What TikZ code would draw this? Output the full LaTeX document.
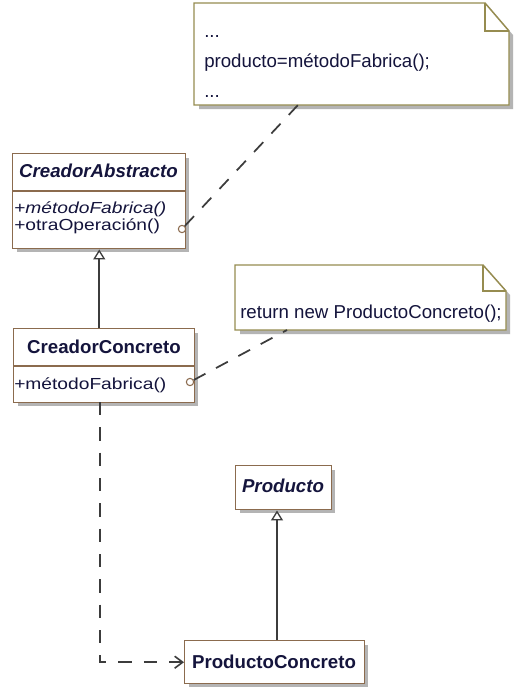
\documentclass[tikz,border=0pt]{standalone}
\usepackage{fontspec}
\setmainfont{Liberation Sans}
\newfontfamily\memberfont{Liberation Sans}[FakeStretch=1.2]
\usetikzlibrary{arrows.meta}
\definecolor{boxbrown}{HTML}{8B6B4E}
\definecolor{noteolive}{HTML}{968C50}
\definecolor{shadowgray}{HTML}{B4B4B4}
\definecolor{txt}{HTML}{14143C}
\definecolor{linegray}{HTML}{3C3C3C}
\tikzset{
  clsbox/.style={draw=boxbrown, line width=1.1pt, fill=white, inner sep=0pt, anchor=north west},
  notebody/.style={draw=noteolive, line width=1.1pt, fill=white, line join=miter},
  txtnode/.style={inner sep=0pt, text=txt, font=\fontsize{14}{16}\selectfont},
  membernode/.style={inner sep=0pt, text=txt, font=\memberfont\fontsize{12}{14}\selectfont, anchor=base west},
  circ/.style={circle, draw=boxbrown, line width=0.8pt, fill=white, minimum size=5.5pt, inner sep=0pt},
  conn/.style={draw=linegray, line width=1.3pt},
  dashconn/.style={conn, dash pattern=on 10pt off 9pt},
  inherit/.style={conn, -{Triangle[open, length=7.5pt, width=9pt, line width=1pt]}},
  depend/.style={dashconn, -{Straight Barb[length=6pt, width=9pt, line width=1.2pt]}}
}
\begin{document}
\begin{tikzpicture}[x=0.75pt, y=-0.75pt]
\useasboundingbox (0,0) rectangle (521,692);
\fill[white] (0,0) rectangle (521,692);

% ---------- Note 1 ----------
\fill[shadowgray] (199,8) -- (490,8) -- (513,35) -- (513,109) -- (199,109) -- cycle;
\draw[notebody] (194,3) -- (485,3) -- (509,31) -- (509,105) -- (194,105) -- cycle;
\draw[notebody, fill=none] (485,3) -- (485,31) -- (509,31);
\node[inner sep=0pt, minimum width=236pt, minimum height=76pt, anchor=north west] (n1) at (194,3) {};
\node[txtnode, anchor=base west] (n1l1) at (204,38) {...};
\node[txtnode, anchor=base west] (n1l2) at (204,68) {producto=métodoFabrica();};
\node[txtnode, anchor=base west] (n1l3) at (204,98) {...};
\coordinate (n1b) at (298,105);

% ---------- Note 2 ----------
\fill[shadowgray] (240,270) -- (488,270) -- (510,295) -- (510,334) -- (240,334) -- cycle;
\draw[notebody] (235,265) -- (483,265) -- (506,291) -- (506,330) -- (235,330) -- cycle;
\draw[notebody, fill=none] (483,265) -- (483,291) -- (506,291);
\node[inner sep=0pt, minimum width=203.25pt, minimum height=48.75pt, anchor=north west] (n2) at (235,265) {};
\node[txtnode, anchor=base west] (n2l1) at (240,318) {return new ProductoConcreto();};
\coordinate (n2b) at (287,330);

% ---------- CreadorAbstracto ----------
\fill[shadowgray] (17,158) rectangle (189,252);
\node[clsbox, minimum width=129.75pt, minimum height=71.25pt] (ca) at (12,153) {};
\draw[boxbrown, line width=1.1pt] (12,191) -- (185,191);
\node[txtnode, anchor=base, font=\fontsize{14}{16}\selectfont\bfseries\itshape] (catitle) at (98.5,177) {CreadorAbstracto};
\node[membernode] (cam1) at (14,213) {+\textit{métodoFabrica()}};
\node[membernode] (cam2) at (14,230) {+otraOperación()};
\node[circ] (cac) at (182,229) {};

% ---------- CreadorConcreto ----------
\fill[shadowgray] (18,333) rectangle (198,406);
\node[clsbox, minimum width=135.75pt, minimum height=55.5pt] (cc) at (13,328) {};
\draw[boxbrown, line width=1.1pt] (13,366) -- (194,366);
\node[txtnode, anchor=base, font=\fontsize{14}{16}\selectfont\bfseries] (cctitle) at (104,353) {CreadorConcreto};
\node[membernode] (ccm1) at (14,389) {+métodoFabrica()};
\node[circ] (ccc) at (190,382) {};

% ---------- Producto ----------
\fill[shadowgray] (240,470) rectangle (335,513);
\node[clsbox, minimum width=72pt, minimum height=33pt] (p) at (235,465) {};
\node[txtnode, anchor=base, font=\fontsize{14}{16}\selectfont\bfseries\itshape] (ptitle) at (283,492) {Producto};

% ---------- ProductoConcreto ----------
\fill[shadowgray] (189,645) rectangle (368,687);
\node[clsbox, minimum width=135pt, minimum height=32.25pt] (pc) at (184,640) {};
\node[txtnode, anchor=base, font=\fontsize{14}{16}\selectfont\bfseries] (pctitle) at (274,668) {ProductoConcreto};

% ---------- Connectors ----------
\draw[dashconn] (cac) -- (n1b);
\draw[dashconn] (ccc) -- (n2b);
\draw[inherit] (ca.south |- cc.north) -- (ca.south);
\coordinate (pup) at (277,640);
\draw[inherit] (pup) -- (pup |- p.south);
\coordinate (dstart) at (100,402);
\draw[depend] (dstart) |- (pc.west);
\end{tikzpicture}
\end{document}
